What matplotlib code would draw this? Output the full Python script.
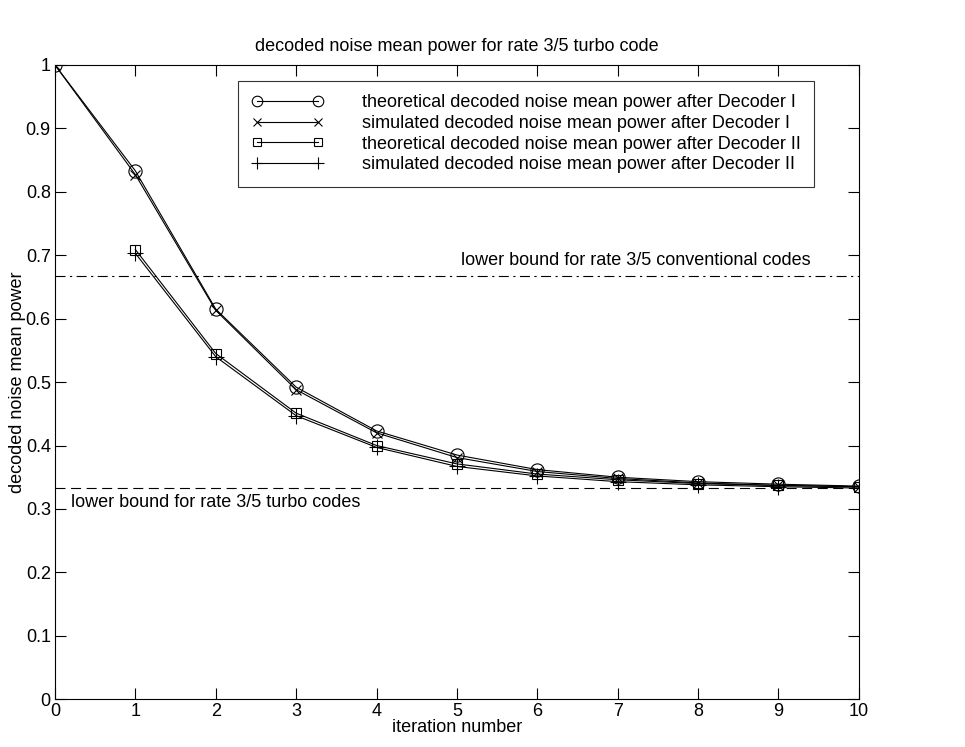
import matplotlib
matplotlib.use("Agg")
import matplotlib.pyplot as plt
import numpy as np

plt.rcParams['font.family'] = ['Liberation Sans', 'DejaVu Sans']

iters = np.arange(0, 11)
iters2 = np.arange(1, 11)

theo_dec1 = [1.0, 0.833, 0.615, 0.492, 0.423, 0.385, 0.362, 0.350, 0.343, 0.339, 0.336]
sim_dec1 = [1.0, 0.827, 0.613, 0.488, 0.420, 0.381, 0.359, 0.348, 0.341, 0.337, 0.335]
theo_dec2 = [0.709, 0.545, 0.451, 0.400, 0.371, 0.355, 0.346, 0.340, 0.337, 0.335]
sim_dec2 = [0.703, 0.540, 0.447, 0.397, 0.367, 0.352, 0.343, 0.338, 0.335, 0.333]

bound_conv = 2 / 3
bound_turbo = 1 / 3

fs = 13

fig = plt.figure(figsize=(9.65, 7.47), dpi=100)
ax = fig.add_axes([0.057, 0.064, 0.833, 0.849])

ax.plot(iters, theo_dec1, '-o', color='k', lw=0.8, mfc='none', ms=9.5, mew=0.8,
        label='theoretical decoded noise mean power after Decoder I')
ax.plot(iters, sim_dec1, '-x', color='k', lw=0.8, ms=7, mew=0.8,
        label='simulated decoded noise mean power after Decoder I')
ax.plot(iters2, theo_dec2, '-s', color='k', lw=0.8, mfc='none', ms=7.5, mew=0.8,
        label='theoretical decoded noise mean power after Decoder II')
ax.plot(iters2, sim_dec2, '-+', color='k', lw=0.8, ms=11, mew=0.8,
        label='simulated decoded noise mean power after Decoder II')

ax.plot([0, 10], [bound_conv, bound_conv], color='k', lw=0.8, ls=(0, (9, 4, 2, 4)))
ax.plot([0, 10], [bound_turbo, bound_turbo], color='k', lw=0.8, ls=(0, (9, 5)))

ax.text(9.4, 0.678, 'lower bound for rate 3/5 conventional codes', ha='right', va='bottom', fontsize=fs)
ax.text(0.2, 0.31, 'lower bound for rate 3/5 turbo codes', ha='left', va='center', fontsize=fs)

ax.set_xlim(0, 10)
ax.set_ylim(0, 1)
ax.set_xticks(range(0, 11))
ax.set_yticks(np.arange(0, 1.01, 0.1))
ax.set_yticklabels(['0', '0.1', '0.2', '0.3', '0.4', '0.5', '0.6', '0.7', '0.8', '0.9', '1'])
ax.tick_params(direction='in', top=True, right=True, labelsize=fs, length=8, width=0.8, pad=3)
for s in ax.spines.values():
    s.set_linewidth(0.8)

ax.set_title('decoded noise mean power for rate 3/5 turbo code', fontsize=fs, pad=10)
ax.set_xlabel('iteration number', fontsize=fs, labelpad=-1)
ax.set_ylabel('decoded noise mean power', fontsize=fs, labelpad=0)

leg = ax.legend(loc='upper left', bbox_to_anchor=(0.2276, 0.975), numpoints=2, handlelength=4.0,
                fontsize=fs, frameon=True, fancybox=False, edgecolor='k', borderpad=0.75,
                labelspacing=0.2, handletextpad=2.1, borderaxespad=0, markerscale=0.8)
leg.get_frame().set_linewidth(0.8)

fig.savefig('out.png', dpi=100)
